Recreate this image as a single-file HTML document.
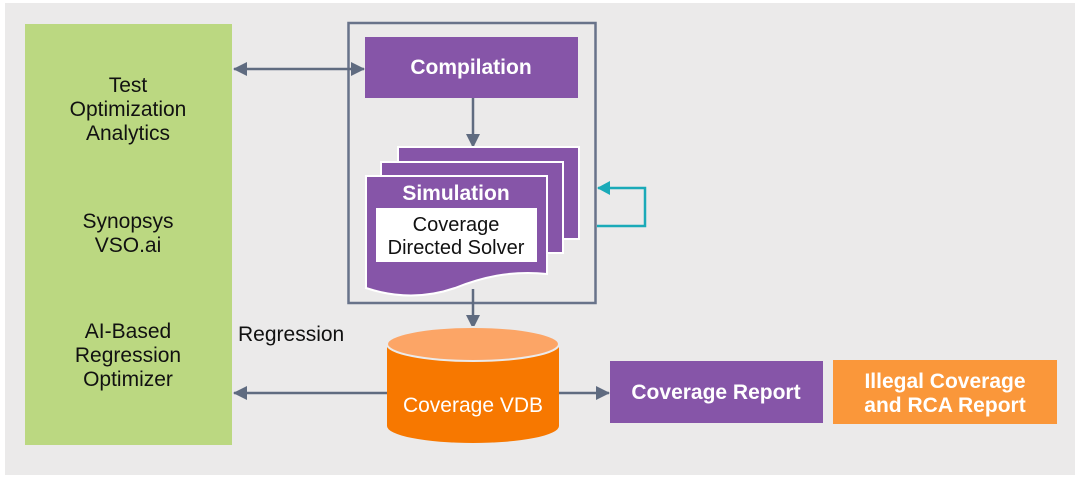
<!DOCTYPE html>
<html><head><style>
html,body{margin:0;padding:0;background:#fff;}
svg{display:block;}
text{font-family:"Liberation Sans",sans-serif;}
</style></head><body>
<svg width="1080" height="479" viewBox="0 0 1080 479" xmlns="http://www.w3.org/2000/svg">
<defs>
<marker id="ah" markerWidth="14" markerHeight="14" refX="13" refY="7" orient="auto-start-reverse" markerUnits="userSpaceOnUse">
<path d="M0,0 L14,7 L0,14 Z" fill="#5f6b80"/></marker>
<marker id="at" markerWidth="14" markerHeight="14" refX="12" refY="7" orient="auto" markerUnits="userSpaceOnUse">
<path d="M0,0 L13,7 L0,14 Z" fill="#1aaab8"/></marker>
</defs>
<rect x="5" y="3" width="1070" height="472" fill="#ebeaea"/>
<rect x="25" y="24" width="207" height="421" fill="#bbd881"/>
<g font-size="21" fill="#111" text-anchor="middle">
<text x="128" y="92">Test</text>
<text x="128" y="116">Optimization</text>
<text x="128" y="140">Analytics</text>
<text x="128" y="228">Synopsys</text>
<text x="128" y="252">VSO.ai</text>
<text x="128" y="338">AI-Based</text>
<text x="128" y="362">Regression</text>
<text x="128" y="386">Optimizer</text>
</g>
<rect x="348.5" y="23" width="247" height="280" fill="none" stroke="#68738a" stroke-width="2.5"/>
<line x1="234" y1="69" x2="364" y2="69" stroke="#5f6b80" stroke-width="2.5" marker-start="url(#ah)" marker-end="url(#ah)"/>
<rect x="365" y="37" width="213" height="61" fill="#8655a8"/>
<text x="471" y="74" font-size="21" fill="#fff" text-anchor="middle" font-weight="bold">Compilation</text>
<line x1="473" y1="98" x2="473" y2="147" stroke="#5f6b80" stroke-width="2.5" marker-end="url(#ah)"/>
<rect x="398" y="147" width="181" height="92" fill="#8655a8" stroke="#fff" stroke-width="2"/>
<rect x="381" y="162" width="182" height="91" fill="#8655a8" stroke="#fff" stroke-width="2"/>
<path d="M366,176 L547,176 L547,274 C510,270 480,278 455,288 C420,300 390,296 366,288 Z" fill="#8655a8" stroke="#fff" stroke-width="2"/>
<text x="456" y="200" font-size="21" fill="#fff" text-anchor="middle" font-weight="bold">Simulation</text>
<rect x="376" y="208" width="161" height="54" fill="#fff"/>
<text x="456" y="231" font-size="20" fill="#111" text-anchor="middle">Coverage</text>
<text x="456" y="254" font-size="20" fill="#111" text-anchor="middle">Directed Solver</text>
<path d="M597,226 L645,226 L645,188 L598,188" fill="none" stroke="#1aaab8" stroke-width="2.5" marker-end="url(#at)"/>
<line x1="473" y1="289" x2="473" y2="328" stroke="#5f6b80" stroke-width="2.5" marker-end="url(#ah)"/>
<text x="238" y="341" font-size="21" fill="#111">Regression</text>
<path d="M387,345 L387,426 A86,17 0 0 0 559,426 L559,345 Z" fill="#f77800"/>
<ellipse cx="473" cy="344" rx="86" ry="17" fill="#fca566" stroke="#ebeaea" stroke-width="2"/>
<text x="473" y="412" font-size="21" fill="#fff" text-anchor="middle">Coverage VDB</text>
<line x1="234" y1="393" x2="387" y2="393" stroke="#5f6b80" stroke-width="2.5" marker-start="url(#ah)"/>
<line x1="559" y1="393" x2="609" y2="393" stroke="#5f6b80" stroke-width="2.5" marker-end="url(#ah)"/>
<rect x="610" y="361" width="213" height="62" fill="#8655a8"/>
<text x="716" y="399" font-size="21" fill="#fff" text-anchor="middle" font-weight="bold">Coverage Report</text>
<rect x="833" y="360" width="224" height="64" fill="#fa973a"/>
<text x="945" y="388" font-size="21" fill="#fff" text-anchor="middle" font-weight="bold">Illegal Coverage</text>
<text x="945" y="412" font-size="21" fill="#fff" text-anchor="middle" font-weight="bold">and RCA Report</text>
</svg>
</body></html>
